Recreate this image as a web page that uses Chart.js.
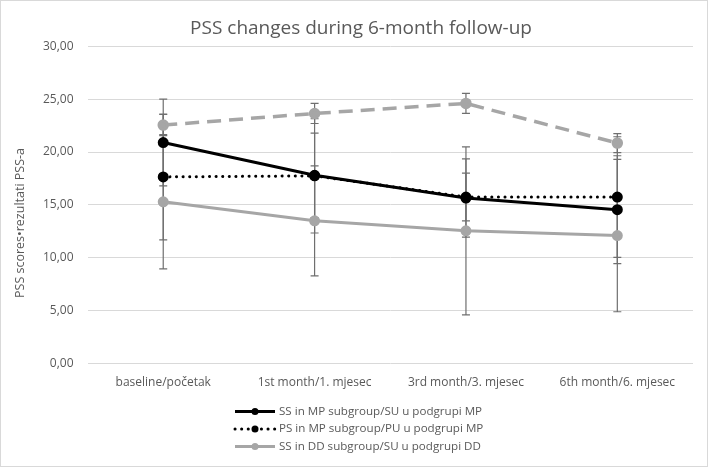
<!DOCTYPE html>
<html>
<head>
<meta charset="utf-8">
<script src="https://cdn.jsdelivr.net/npm/chart.js@4.4.1/dist/chart.umd.min.js"></script>
<style>
  html, body { margin: 0; padding: 0; background: #fff; }
  #wrap { width: 708px; height: 467px; position: relative; }
</style>
</head>
<body>
<div id="wrap"><canvas id="pssChart"></canvas></div>
<script>
const categories = ['baseline/početak', '1st month/1. mjesec', '3rd month/3. mjesec', '6th month/6. mjesec'];
const yTicks = [0, 5, 10, 15, 20, 25, 30];
const yTitle = 'PSS scores•rezultati PSS-a';

// means
const ssMp = [20.9, 17.8, 15.65, 14.55];
const psMp = [17.65, 17.75, 15.75, 15.75];
const ssDd = [15.3, 13.5, 12.55, 12.1];
const psDd = [22.55, 23.65, 24.6, 20.85];

// standard deviations (error bars)
const ssMpSd = [4.1, 4.0, 3.7, 5.1];
const psMpSd = [5.95, 5.4, 2.25, 5.7];
const ssDdSd = [6.35, 5.2, 7.95, 7.2];
const psDdSd = [1.0, 0.95, 0.95, 0.9];

const textColor = '#595959';
const fontFamily = '"Open Sans", "Liberation Sans", sans-serif';

// error bars, drawn behind the lines
const errorBars = {
    id: 'errorBars',
    beforeDatasetsDraw(chart) {
        const ctx = chart.ctx;
        const y = chart.scales.y;
        ctx.save();
        ctx.strokeStyle = '#6f6f6f';
        ctx.lineWidth = 1.2;
        chart.data.datasets.forEach((ds, i) => {
            const meta = chart.getDatasetMeta(i);
            meta.data.forEach((pt, j) => {
                const v = ds.data[j], e = ds.errors[j];
                const top = y.getPixelForValue(v + e);
                const bot = y.getPixelForValue(v - e);
                ctx.beginPath();
                ctx.moveTo(pt.x, top); ctx.lineTo(pt.x, bot);
                ctx.moveTo(pt.x - 4, top); ctx.lineTo(pt.x + 4, top);
                ctx.moveTo(pt.x - 4, bot); ctx.lineTo(pt.x + 4, bot);
                ctx.stroke();
            });
        });
        ctx.restore();
    }
};

// Excel style legend (line + marker), one entry per row, plus axis title and border
const lineLegend = {
    id: 'lineLegend',
    afterDraw(chart) {
        const ctx = chart.ctx;
        ctx.save();
        chart.data.datasets.slice(0, 3).forEach((ds, i) => {
            const yy = 411.5 + i * 17.5;
            ctx.strokeStyle = ds.borderColor;
            ctx.lineWidth = ds.borderWidth;
            ctx.lineCap = ds.borderCapStyle || 'butt';
            ctx.setLineDash(ds.borderDash || []);
            ctx.beginPath();
            ctx.moveTo(235, yy); ctx.lineTo(275, yy);
            ctx.stroke();
            ctx.setLineDash([]);
            ctx.fillStyle = ds.pointBackgroundColor;
            ctx.beginPath();
            ctx.arc(255, yy, 3.5, 0, Math.PI * 2);
            ctx.fill();
            ctx.fillStyle = textColor;
            ctx.font = '11.6px ' + fontFamily;
            ctx.textBaseline = 'middle';
            ctx.fillText(ds.label, 279, yy);
        });

        // y axis title
        ctx.save();
        ctx.translate(20, 223);
        ctx.rotate(-Math.PI / 2);
        ctx.fillStyle = textColor;
        ctx.font = '12.5px ' + fontFamily;
        ctx.textAlign = 'center';
        ctx.textBaseline = 'middle';
        ctx.fillText(yTitle, 0, 0);
        ctx.restore();

        // chart border
        ctx.strokeStyle = '#d9d9d9';
        ctx.lineWidth = 1;
        ctx.strokeRect(0.5, 0.5, chart.width - 1, chart.height - 1);
        ctx.restore();
    }
};

new Chart(document.getElementById('pssChart'), {
    type: 'line',
    data: {
        labels: categories,
        datasets: [
            {
                label: 'SS in MP subgroup/SU u podgrupi MP',
                data: ssMp, errors: ssMpSd,
                borderColor: '#000000', pointBackgroundColor: '#000000', pointBorderColor: '#000000',
                borderWidth: 3, pointRadius: 4, order: 1
            },
            {
                label: 'PS in MP subgroup/PU u podgrupi MP',
                data: psMp, errors: psMpSd,
                borderColor: '#000000', pointBackgroundColor: '#000000', pointBorderColor: '#000000',
                borderWidth: 3, borderDash: [0.1, 6.5], borderCapStyle: 'round', pointRadius: 4, order: 2
            },
            {
                label: 'SS in DD subgroup/SU u podgrupi DD',
                data: ssDd, errors: ssDdSd,
                borderColor: '#a6a6a6', pointBackgroundColor: '#a6a6a6', pointBorderColor: '#a6a6a6',
                borderWidth: 3, pointRadius: 4, order: 3
            },
            {
                label: 'PS in DD subgroup/PU u podgrupi DD',
                data: psDd, errors: psDdSd,
                borderColor: '#a6a6a6', pointBackgroundColor: '#a6a6a6', pointBorderColor: '#a6a6a6',
                borderWidth: 3.5, borderDash: [14, 8], pointRadius: 4, order: 4
            }
        ]
    },
    options: {
        responsive: true,
        maintainAspectRatio: false,
        devicePixelRatio: 1,
        animation: false,
        layout: { padding: { left: 29, right: 15, top: 0, bottom: 65 } },
        elements: { line: { tension: 0 }, point: { borderWidth: 0 } },
        plugins: {
            legend: { display: false },
            tooltip: { enabled: false },
            title: {
                display: true,
                text: 'PSS changes during 6-month follow-up',
                color: textColor,
                font: { family: fontFamily, size: 19, weight: 'normal' },
                padding: { top: 17, bottom: 6.5 }
            }
        },
        scales: {
            x: {
                offset: true,
                grid: { display: false, drawTicks: false },
                border: { display: false },
                ticks: { color: textColor, font: { family: fontFamily, size: 12 }, padding: 12 }
            },
            y: {
                min: 0, max: 30,
                afterBuildTicks: axis => { axis.ticks = yTicks.map(v => ({ value: v })); },
                grid: { color: '#d9d9d9', drawTicks: false, lineWidth: 1 },
                border: { display: false },
                ticks: {
                    color: textColor, font: { family: fontFamily, size: 12 }, padding: 14,
                    callback: v => v.toFixed(2).replace('.', ',')
                }
            }
        }
    },
    plugins: [errorBars, lineLegend]
});
</script>
</body>
</html>
